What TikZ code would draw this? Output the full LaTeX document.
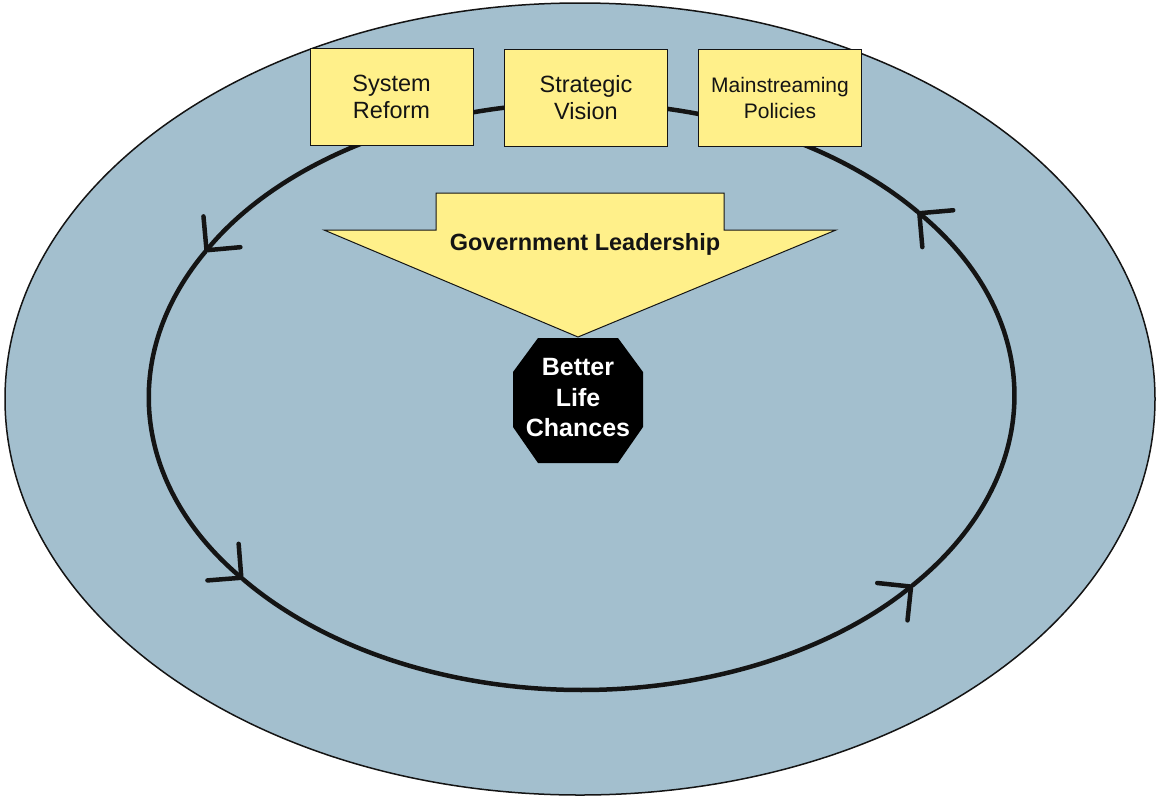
\documentclass[tikz,border=0pt]{standalone}
\usepackage{fontspec}
\setmainfont{Liberation Sans}
\usetikzlibrary{arrows.meta,calc}
\definecolor{bgblue}{RGB}{163,191,206}
\definecolor{boxyellow}{RGB}{255,240,138}
\definecolor{ink}{RGB}{20,20,20}
\begin{document}
\begin{tikzpicture}[x=1pt,y=1pt,
  boxstyle/.style={draw=ink, line width=1pt, fill=boxyellow, minimum width=163pt, minimum height=97pt, inner sep=0pt, align=center, text=ink, font=\fontsize{23.5}{27}\selectfont},
  loopline/.style={line width=4.5pt, draw=ink, line cap=round},
  looparrow/.style={loopline, -{Straight Barb[angle=90:34pt, round]}},
  ell/.style={x radius=432.5, y radius=293.5}
]
\useasboundingbox (0,0) rectangle (1159,-801);
\fill[white] (0,0) rectangle (1159,-801);
% outer ellipse
\draw[draw=ink, line width=1.5pt, fill=bgblue] (580,-399) ellipse [x radius=575, y radius=396];
% inner loop
\coordinate (C) at (581.5,-396.5);
\draw[looparrow] ($(C)+(90:432.5 and 293.5)$) arc[start angle=90, end angle=150.5, ell];
\draw[looparrow] ($(C)+(150.5:432.5 and 293.5)$) arc[start angle=150.5, end angle=218.5, ell];
\draw[looparrow] ($(C)+(218.5:432.5 and 293.5)$) arc[start angle=218.5, end angle=320, ell];
\draw[looparrow] ($(C)+(320:432.5 and 293.5)$) arc[start angle=320, end angle=399, ell];
\draw[loopline] ($(C)+(39:432.5 and 293.5)$) arc[start angle=39, end angle=90, ell];
% boxes
\node[boxstyle] (sr) at (391.5,-97) {System\\Reform};
\node[boxstyle] (sv) at (586,-97.5) {Strategic\\Vision};
\node[boxstyle, font=\fontsize{21}{26}\selectfont] (mp) at (780,-97.5) {Mainstreaming\\Policies};
% government leadership arrow
\draw[draw=ink, line width=1pt, fill=boxyellow, line join=miter]
  (436,-193) -- (724,-193) -- (724,-230) -- (836,-230) -- (578,-337) -- (324,-230) -- (436,-230) -- cycle;
\node[text=ink, font=\fontsize{23.5}{27}\selectfont\bfseries] (gl) at (585,-244) {Government Leadership};
% octagon
\fill[black] (538,-338) -- (618,-338) -- (643,-372) -- (643,-427) -- (618,-463) -- (538,-463) -- (513,-427) -- (513,-372) -- cycle;
\node[text=white, align=center, font=\fontsize{25}{30.5}\selectfont\bfseries] (blc) at (578,-398) {Better\\Life\\Chances};
\end{tikzpicture}
\end{document}
